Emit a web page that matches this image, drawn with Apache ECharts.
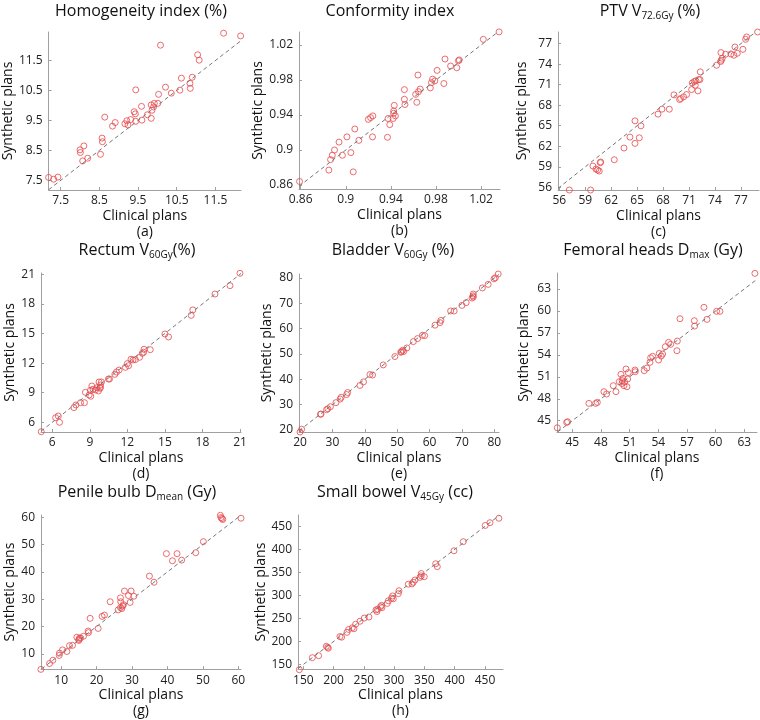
<!DOCTYPE html>
<html>
<head>
<meta charset="utf-8">
<script src="https://cdn.jsdelivr.net/npm/echarts@6/dist/echarts.min.js"></script>
<style>
  html, body { margin: 0; background: #fff; }
  #chart { width: 760px; height: 720px; }
</style>
</head>
<body>
<div id="chart"></div>
<script>
// (a) homogeneity index
const hiClinical = [7.19,7.32,7.43,8.0,8.01,8.10,8.07,8.2,8.53,8.57,8.58,8.64,8.84,8.91,9.16,9.21,9.24,9.31,9.40,9.43,9.44,9.44,9.6,9.59,9.74,9.84,9.86,9.84,9.9,9.92,10.03,10.01,10.08,10.21,10.36,10.58,10.62,10.84,10.85,10.9,11.04,11.08,11.71,12.15];
const hiSynthetic = [7.60,7.54,7.61,8.52,8.43,8.65,8.15,8.24,8.37,8.91,8.79,9.61,9.31,9.43,9.39,9.49,9.35,9.53,9.79,9.72,9.47,10.52,9.51,9.97,9.69,9.57,9.84,10.02,9.95,10.07,10.37,10.07,12.01,10.61,10.41,10.51,10.91,10.74,10.57,10.94,11.69,11.51,12.41,12.32];
const hiTicks = [7.5, 8.5, 9.5, 10.5, 11.5];

// (b) conformity index
const ciClinical = [0.859,0.885,0.8865,0.888,0.890,0.894,0.897,0.901,0.9045,0.9066,0.908,0.9116,0.920,0.922,0.924,0.9237,0.9375,0.937,0.939,0.943,0.9425,0.9425,0.944,0.942,0.952,0.952,0.9525,0.962,0.963,0.964,0.9645,0.966,0.975,0.976,0.977,0.979,0.981,0.987,0.988,0.993,0.9985,1.0,1.0006,1.022,1.036];
const ciSynthetic = [0.864,0.877,0.889,0.894,0.900,0.909,0.894,0.915,0.897,0.875,0.924,0.911,0.935,0.937,0.939,0.915,0.936,0.9145,0.929,0.951,0.9446,0.942,0.939,0.936,0.969,0.958,0.952,0.9636,0.9545,0.9857,0.9667,0.9697,0.971,0.977,0.981,0.979,0.991,0.976,1.004,0.996,0.994,1.002,1.003,1.0265,1.035];
const ciTicks = [0.86, 0.9, 0.94, 0.98, 1.02];

// (c) PTV V72.6Gy
const ptvClinical = [57.16,59.62,59.89,60.24,60.43,60.62,60.74,60.78,62.36,63.48,64.17,64.75,64.75,65.25,65.44,67.41,67.87,68.72,69.26,69.91,70.03,70.37,70.72,71.30,71.37,71.61,71.72,71.80,72.03,72.11,72.26,72.3,74.19,74.65,74.73,74.69,74.84,75.23,75.84,76.19,76.31,76.58,77.23,77.54,77.66,78.93];
const ptvSynthetic = [55.61,55.61,59.11,58.67,58.53,58.38,59.6,59.7,60.03,61.74,63.34,62.42,65.72,63.24,64.99,66.70,67.42,67.42,69.51,68.83,68.98,69.22,69.56,70.29,71.26,71.46,70.92,71.56,70.10,71.75,71.75,72.87,73.84,74.38,74.57,75.69,74.86,75.45,75.49,75.30,76.51,75.59,76.17,77.63,77.97,78.70];
const ptvTicks = [56, 59, 62, 65, 68, 71, 74, 77];

// (d) rectum V60Gy
const rectumClinical = [5.12,6.27,6.48,6.58,7.73,7.89,8.26,8.57,8.65,8.95,9.08,9.05,9.16,9.26,9.45,9.58,9.69,9.74,9.82,9.85,9.93,9.85,10.49,10.57,11.0,11.13,11.34,11.84,12.0,12.1,12.29,12.45,12.64,12.98,13.19,13.3,13.33,13.83,15.0,15.29,17.1,17.23,19.0,20.2,21.0];
const rectumSynthetic = [5.05,6.47,6.64,6.0,7.49,7.76,7.99,7.99,9.04,8.77,8.64,9.24,9.68,9.35,9.28,9.51,9.18,10.09,9.45,9.78,10.09,9.55,10.39,10.39,10.86,11.1,11.30,11.57,11.95,11.74,12.39,12.32,12.35,12.59,12.99,13.1,13.4,13.36,14.95,14.65,16.84,17.39,19.0,19.85,21.1];
const rectumTicks = [6, 9, 12, 15, 18, 21];

// (e) bladder V60Gy
const bladderClinical = [20.0,20.5,26.3,26.5,28.2,28.6,29.4,31.1,32.4,32.7,34.4,34.7,38.5,39.6,41.6,42.4,45.7,49.3,51.1,51.7,52.0,51.3,53.0,55.0,56.3,57.8,58.5,61.7,63.2,63.5,66.5,67.6,70.0,71.3,73.1,73.5,73.5,73.4,76.3,78.1,79.9,80.3,81.2];
const bladderSynthetic = [19.2,20.3,26.2,26.3,28.0,28.4,29.2,30.8,32.2,32.9,34.0,34.8,37.6,39.0,41.9,41.7,45.7,49.0,50.7,51.5,51.0,50.9,52.4,54.9,56.1,57.4,57.3,61.4,62.4,63.3,67.0,67.0,69.2,70.3,72.1,72.5,73.7,73.0,76.1,77.5,79.7,80.1,81.6];
const bladderTicks = [20, 30, 40, 50, 60, 70, 80];

// (f) femoral heads Dmax
const femoralClinical = [43.43,44.41,44.51,46.74,47.44,47.62,48.31,48.59,49.29,49.57,49.92,50.09,50.20,50.23,50.30,50.41,50.48,50.62,50.72,50.79,50.86,51.56,51.59,52.53,52.81,53.13,53.2,53.41,54.03,54.10,54.31,54.45,54.73,55.08,55.29,55.95,55.99,56.27,57.77,57.8,58.78,59.09,60.10,60.45,64.11];
const femoralSynthetic = [44.04,44.77,44.86,47.37,47.37,47.51,48.97,48.65,49.79,48.97,50.33,51.34,50.1,50.47,50.79,49.79,50.29,52.07,49.65,50.7,51.57,51.93,51.7,51.84,52.2,52.98,53.6,53.8,53.30,54.2,53.84,54.12,55.12,55.71,55.44,54.57,55.89,58.94,58.67,57.94,60.50,58.85,59.95,59.95,65.14];
const femoralTicks = [45, 48, 51, 54, 57, 60, 63];

// (g) penile bulb Dmean
const penileClinical = [4.27,6.71,7.65,9.44,9.53,10.38,11.6,12.35,13.2,14.42,14.98,15.17,15.45,14.98,16.3,17.61,17.7,18.17,20.43,21.55,22.21,23.82,26.07,26.73,26.73,26.8,27.1,27.37,27.56,27.86,28.98,29.45,29.74,30.5,34.9,36.2,39.7,41.4,42.7,44.0,47.97,50.13,54.93,55.1,55.4,55.6,60.75];
const penileSynthetic = [4.29,6.43,7.62,9.40,10.24,11.43,10.83,12.98,13.1,16.07,15.24,15.71,15.83,14.88,16.43,18.33,17.74,22.98,19.29,23.69,24.17,29.05,26.07,26.9,30.48,29.05,26.55,27.5,27.98,32.98,31.31,28.81,32.98,31.07,38.45,36.19,46.67,44.05,46.67,44.29,47.02,51.07,60.71,59.88,59.52,59.17,59.64];
const penileTicks = [10, 20, 30, 40, 50, 60];

// (h) small bowel V45Gy
const bowelClinical = [143.4,164.9,175.3,188.0,190.2,191.3,210.5,213.3,222.1,224.8,230.9,233.6,236.4,243.6,250.7,258.4,270,271.6,272.7,277.6,279.3,279.9,288.7,290.4,295.8,297.5,298.6,306.9,308,323.4,329.4,331.6,334.4,342.6,344.8,344.8,349.8,368.6,371.3,398.8,414.2,450.5,458.3,473];
const bowelSynthetic = [138.7,164.8,169.1,189.5,187.4,185.3,210.7,209.3,219.9,226.2,229.8,227.6,237.5,243.9,250.9,253.1,268.6,265.1,270.0,275.6,278.5,273.5,282.7,288.4,294.0,298.9,292.6,303.9,310.2,324.4,325.1,328.6,333.5,339.2,342.7,347.6,340.6,368.8,362.5,397,416.8,452,458,467.6];
const bowelTicks = [150, 200, 250, 300, 350, 400, 450];

const FONT = '"Open Sans", "Noto Sans", sans-serif';

// box = [left, top, width, height]
const panels = [
  { title: 'Homogeneity index (%)', tag: '(a)', clin: hiClinical, syn: hiSynthetic, ticks: hiTicks,
    x: [7.19, 12.16], y: [7.18, 12.45], box: [41, 32, 200, 158], gap: 23, tx: 141, ty: 11 },
  { title: 'Conformity index', tag: '(b)', clin: ciClinical, syn: ciSynthetic, ticks: ciTicks,
    x: [0.8585, 1.0368], y: [0.8554, 1.0349], box: [299, 32, 201, 157], gap: 28, tx: 390, ty: 11 },
  { title: 'PTV V{s|72.6Gy} (%)', tag: '(c)', clin: ptvClinical, syn: ptvSynthetic, ticks: ptvTicks,
    x: [55.85, 79.09], y: [55.61, 78.7], box: [558, 32, 201, 158], gap: 29, tx: 650, ty: 11 },
  { title: 'Rectum V{s|60Gy}(%)', tag: '(d)', clin: rectumClinical, syn: rectumSynthetic, ticks: rectumTicks,
    x: [5.1, 21.08], y: [5.02, 21.13], box: [41, 273, 200, 159], gap: 21, tx: 137, ty: 250 },
  { title: 'Bladder V{s|60Gy} (%)', tag: '(e)', clin: bladderClinical, syn: bladderSynthetic, ticks: bladderTicks,
    x: [19.69, 81.44], y: [19.21, 81.6], box: [299, 274, 200, 158], gap: 25, tx: 393, ty: 250 },
  { title: 'Femoral heads D{s|max} (Gy)', tag: '(f)', clin: femoralClinical, syn: femoralSynthetic, ticks: femoralTicks,
    x: [43.4, 64.33], y: [43.46, 65.19], box: [557, 273, 200, 159], gap: 26, tx: 653, ty: 250 },
  { title: 'Penile bulb D{s|mean} (Gy)', tag: '(g)', clin: penileClinical, syn: penileSynthetic, ticks: penileTicks,
    x: [4.3, 60.75], y: [4.39, 60.82], box: [41, 515, 200, 158], gap: 21, tx: 137, ty: 492 },
  { title: 'Small bowel V{s|45Gy} (cc)', tag: '(h)', clin: bowelClinical, syn: bowelSynthetic, ticks: bowelTicks,
    x: [141.2, 479.8], y: [140.0, 474.7], box: [298, 515, 205, 158], gap: 24, tx: 395, ty: 492 }
];

const axisCommon = (ticks) => ({
  type: 'value',
  splitLine: { show: false },
  axisLine: { show: true, lineStyle: { color: '#a0a0a0', width: 1 } },
  axisTick: { show: true, inside: true, length: 3, customValues: ticks, lineStyle: { color: '#a0a0a0' } },
  axisLabel: { customValues: ticks, color: '#222', fontSize: 12, fontFamily: FONT },
  nameLocation: 'middle',
  nameTextStyle: { color: '#111', fontSize: 14, fontFamily: FONT }
});

const grid = [], xAxis = [], yAxis = [], series = [], graphic = [];

panels.forEach((p, i) => {
  grid.push({ left: p.box[0], top: p.box[1], width: p.box[2], height: p.box[3], containLabel: false });
  xAxis.push(Object.assign(axisCommon(p.ticks), {
    gridIndex: i, min: p.x[0], max: p.x[1],
    name: 'Clinical plans\n' + p.tag, nameGap: 15,
    nameTextStyle: { color: '#111', fontSize: 14, lineHeight: 16, fontFamily: FONT },
    axisLabel: { customValues: p.ticks, color: '#222', fontSize: 12, fontFamily: FONT, margin: 5 }
  }));
  yAxis.push(Object.assign(axisCommon(p.ticks), {
    gridIndex: i, min: p.y[0], max: p.y[1],
    name: 'Synthetic plans', nameGap: p.gap,
    axisLabel: { customValues: p.ticks, color: '#222', fontSize: 12, fontFamily: FONT, margin: 6 }
  }));
  const lo = Math.max(p.x[0], p.y[0]);
  const hi = Math.min(p.x[1], p.y[1]);
  series.push({
    type: 'line', xAxisIndex: i, yAxisIndex: i, data: [[lo, lo], [hi, hi]],
    symbol: 'none', silent: true,
    lineStyle: { color: '#777', width: 1, type: [4, 3] }
  });
  series.push({
    type: 'scatter', xAxisIndex: i, yAxisIndex: i, clip: false,
    data: p.clin.map((c, k) => [c, p.syn[k]]),
    symbol: 'circle', symbolSize: 6,
    itemStyle: { color: 'rgba(0,0,0,0)', borderColor: '#e8474a', borderWidth: 1 }
  });
  graphic.push({
    type: 'text', x: p.tx, y: p.ty,
    style: {
      text: p.title, align: 'center', verticalAlign: 'middle',
      fontSize: 16, fontFamily: FONT, fill: '#111', lineHeight: 20,
      rich: { s: { fontSize: 10, fontFamily: FONT, fill: '#111', lineHeight: 9, verticalAlign: 'bottom' } }
    }
  });
});

const chart = echarts.init(document.getElementById('chart'));
chart.setOption({
  animation: false,
  backgroundColor: '#fff',
  grid, xAxis, yAxis, series, graphic
});
</script>
</body>
</html>
